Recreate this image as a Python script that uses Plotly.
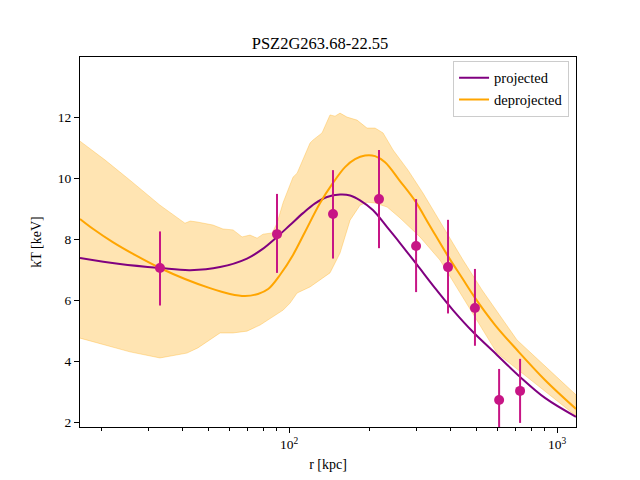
import numpy as np
import plotly.graph_objects as go

# data points
pt_r = [33.0, 90.2, 145.9, 216.6, 297.9, 392.0, 494.0, 608.0, 728.0]
pt_T = [7.05, 8.16, 8.82, 9.31, 7.77, 7.08, 5.74, 2.72, 3.02]
pt_err_up = [1.20, 1.32, 1.44, 1.61, 1.54, 1.55, 1.28, 1.02, 1.05]
pt_err_lo = [1.23, 1.27, 1.46, 1.61, 1.51, 1.52, 1.24, 1.05, 1.05]

# projected model
proj_r = [16.6, 23.4, 33.0, 42.8, 55.3, 69.7, 79.3, 90.2, 100.9, 112.8, 125.1,
          138.6, 155.0, 169.0, 184.1, 205.5, 232.3, 259.5, 300.6, 350.6, 409.0,
          486.0, 597.0, 727.8, 901.6, 1177.0]
proj_T = [7.38, 7.18, 7.05, 6.98, 7.08, 7.36, 7.66, 8.07, 8.46, 8.85, 9.17,
          9.38, 9.46, 9.43, 9.27, 8.95, 8.39, 7.87, 7.15, 6.39, 5.67,
          4.95, 4.20, 3.48, 2.79, 2.17]

# deprojected model
dep_r = [16.6, 18.6, 22.0, 26.6, 33.0, 40.9, 50.7, 60.2, 68.5, 76.6, 83.6,
         92.5, 103.5, 114.7, 130.6, 145.9, 161.8, 176.3, 192.2, 209.4, 228.2,
         259.5, 295.3, 335.6, 391.7, 442.6, 494.3, 587.5, 709.6, 901.6, 1177.0]
dep_T = [8.66, 8.33, 7.90, 7.48, 7.05, 6.69, 6.39, 6.20, 6.13, 6.20, 6.36,
         6.82, 7.48, 8.23, 9.18, 9.84, 10.36, 10.62, 10.74, 10.72, 10.52,
         9.90, 9.25, 8.43, 7.44, 6.72, 6.07, 5.18, 4.36, 3.38, 2.43]

# deprojected uncertainty band
band_up_r = [16.6, 20.6, 25.5, 33.0, 40.9, 42.8, 45.4, 52.0, 56.7, 61.8, 66.8,
             71.5, 76.0, 80.0, 86.5, 90.2, 95.1, 98.3, 103.5, 107.2, 110.0,
             119.8, 123.0, 132.8, 142.2, 148.5, 155.0, 164.5, 179.4, 195.4,
             209.4, 224.3, 244.5, 278.0, 316.0, 375.6, 446.0, 525.0, 709.0, 1177.0]
band_up_T = [11.21, 10.59, 9.93, 9.11, 8.52, 8.59, 8.56, 8.46, 8.33, 8.30, 8.07,
             8.13, 8.03, 8.16, 8.20, 8.52, 9.20, 9.55, 10.03, 10.16, 10.40,
             11.15, 11.25, 11.48, 12.07, 12.03, 12.13, 12.00, 11.90, 11.64,
             11.64, 11.48, 10.92, 10.26, 9.51, 8.39, 7.31, 6.33, 4.69, 2.89]
band_lo_r = [16.6, 25.5, 33.0, 35.1, 41.6, 45.7, 49.4, 55.3, 61.8, 69.7, 78.0,
             87.1, 95.1, 100.9, 107.2, 119.8, 142.2, 155.0, 169.0, 184.1, 195.4,
             209.4, 232.3, 259.5, 308.0, 365.8, 427.5, 597.0, 1177.0]
band_lo_T = [4.75, 4.30, 4.10, 4.16, 4.26, 4.43, 4.62, 4.92, 4.92, 4.98, 5.18,
             5.44, 5.67, 5.90, 6.23, 6.43, 6.89, 7.54, 8.62, 9.11, 9.21,
             9.18, 9.05, 8.69, 8.07, 7.31, 6.33, 4.26, 2.20]

x_ticks = [100, 1000]
x_ticktext = ["10<sup>2</sup>", "10<sup>3</sup>"]
x_minor = [20, 30, 40, 50, 60, 70, 80, 90, 200, 300, 400, 500, 600, 700, 800, 900]
y_ticks = [2, 4, 6, 8, 10, 12]

FONT = "Liberation Serif"

fig = go.Figure()

fig.add_trace(go.Scatter(
    x=band_up_r + band_lo_r[::-1], y=band_up_T + band_lo_T[::-1],
    fill="toself", fillcolor="rgba(255,165,0,0.3)",
    line=dict(color="rgba(255,165,0,0.3)", width=1),
    mode="lines", showlegend=False, hoverinfo="skip"))

fig.add_trace(go.Scatter(
    x=proj_r, y=proj_T, mode="lines", name="projected",
    line=dict(color="purple", width=2, shape="spline", smoothing=1.0)))

fig.add_trace(go.Scatter(
    x=dep_r, y=dep_T, mode="lines", name="deprojected",
    line=dict(color="orange", width=2, shape="spline", smoothing=1.0)))

fig.add_trace(go.Scatter(
    x=pt_r, y=pt_T, mode="markers", showlegend=False,
    marker=dict(color="mediumvioletred", size=10),
    error_y=dict(type="data", array=pt_err_up, arrayminus=pt_err_lo,
                 color="mediumvioletred", thickness=2, width=0)))

axis_common = dict(showline=True, linecolor="black", linewidth=1, mirror=True,
                   ticks="outside", tickcolor="black", ticklen=5, tickwidth=1,
                   showgrid=False, zeroline=False,
                   tickfont=dict(family=FONT, size=13.5, color="black"))

fig.update_xaxes(type="log", range=[np.log10(16.6), np.log10(1177)],
                 tickmode="array", tickvals=x_ticks, ticktext=x_ticktext,
                 minor=dict(tickmode="array", tickvals=x_minor, ticks="outside",
                            ticklen=3, tickcolor="black", tickwidth=1),
                 title=dict(text="r [kpc]", font=dict(family=FONT, size=14, color="black"),
                            standoff=7),
                 **axis_common)
fig.update_yaxes(range=[1.836, 13.97], tickmode="array", tickvals=y_ticks,
                 title=dict(text="kT [keV]", font=dict(family=FONT, size=14, color="black"),
                            standoff=12),
                 **axis_common)

fig.update_layout(
    width=640, height=480,
    margin=dict(l=80, r=64, t=57, b=53),
    paper_bgcolor="white", plot_bgcolor="white",
    title=dict(text="PSZ2G263.68-22.55", x=0.5, xanchor="center",
               y=1 - 43 / 480, yanchor="middle",
               font=dict(family=FONT, size=16.5, color="black")),
    legend=dict(x=0.986, y=0.99, xanchor="right", yanchor="top",
                bgcolor="white", bordercolor="#cccccc", borderwidth=1,
                font=dict(family=FONT, size=14.5, color="black"),
                itemwidth=30, tracegroupgap=0),
)

fig.write_html("out.html")
